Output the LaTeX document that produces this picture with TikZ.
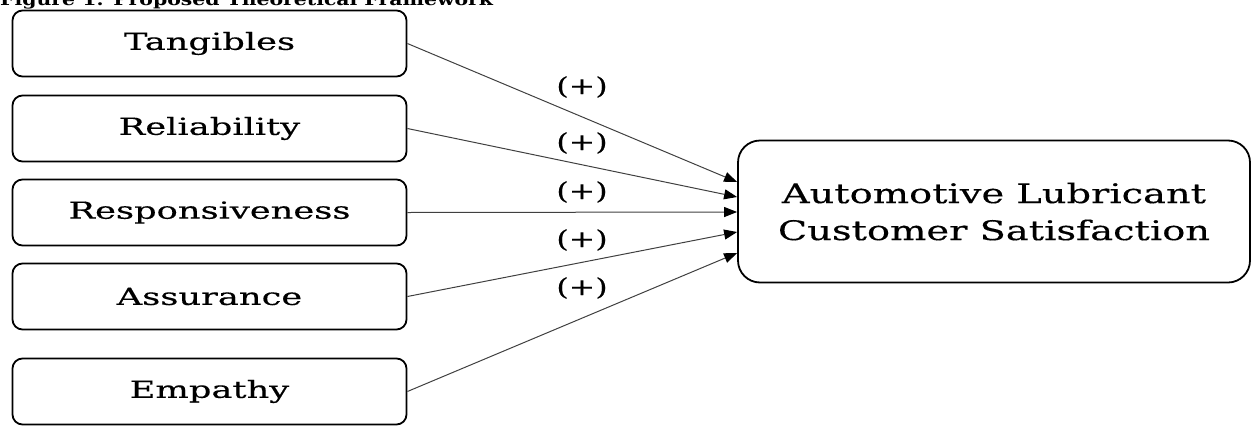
\documentclass[tikz,border=0pt]{standalone}
\usepackage{fontspec}
\setmainfont{DejaVu Serif}
\newfontfamily\boxfont[FakeStretch=1.5,FakeBold=0.35]{DejaVu Serif}
\newfontfamily\outfont[FakeStretch=1.42,FakeBold=0.35]{DejaVu Serif}
\newfontfamily\signfont[FakeStretch=1.35,FakeBold=0.35]{DejaVu Serif}
\newfontfamily\titlefont[FakeStretch=1.25]{DejaVu Serif}
\usetikzlibrary{arrows.meta}

\begin{document}
\begin{tikzpicture}[x=1pt,y=-1pt,
  factor/.style={draw, line width=1.8pt, rounded corners=10pt,
    minimum width=394pt, minimum height=66pt, inner sep=0pt,
    font=\boxfont\fontsize{23.5}{28}\selectfont},
  outcome/.style={draw, line width=1.8pt, rounded corners=22pt,
    minimum width=512pt, minimum height=142pt, align=center,
    font=\outfont\fontsize{27}{37}\selectfont},
  link/.style={draw=black!75, line width=1pt,
    -{Triangle[length=13pt,width=10pt,color=black]}},
  sign/.style={inner sep=0pt, font=\signfont\fontsize{23.5}{26}\selectfont}]

  \useasboundingbox (0,0) rectangle (1252,426);

  % heading, partly above the page edge
  \node[anchor=base west, inner sep=0pt,
        font=\titlefont\bfseries\fontsize{16.3}{18}\selectfont]
    (title) at (0,5) {Figure 1: Proposed Theoretical Framework};

  % SERVQUAL dimensions
  \node[factor] (tan) at (209.5, 43.5)  {Tangibles};
  \node[factor] (rel) at (209.5,128.5)  {Reliability};
  \node[factor] (res) at (209.5,212.5)  {Responsiveness};
  \node[factor] (ass) at (209.5,296.5)  {Assurance};
  \node[factor] (emp) at (209.5,391.5)  {Empathy};

  % outcome
  \node[outcome] (sat) at (994,211.5)
    {Automotive Lubricant\\Customer Satisfaction};

  % hypothesised paths
  \draw[link] (tan.east) -- ([yshift=29.5pt]sat.west);
  \draw[link] (rel.east) -- ([yshift=14.5pt]sat.west);
  \draw[link] (res.east) -- ([yshift=-0.5pt]sat.west);
  \draw[link] (ass.east) -- ([yshift=-20.5pt]sat.west);
  \draw[link] (emp.east) -- ([yshift=-41.5pt]sat.west);

  % signs of the paths
  \node[sign] (s1) at (582, 87)  {(+)};
  \node[sign] (s2) at (582,143)  {(+)};
  \node[sign] (s3) at (582,192)  {(+)};
  \node[sign] (s4) at (582,240)  {(+)};
  \node[sign] (s5) at (582,288)  {(+)};
\end{tikzpicture}
\end{document}
